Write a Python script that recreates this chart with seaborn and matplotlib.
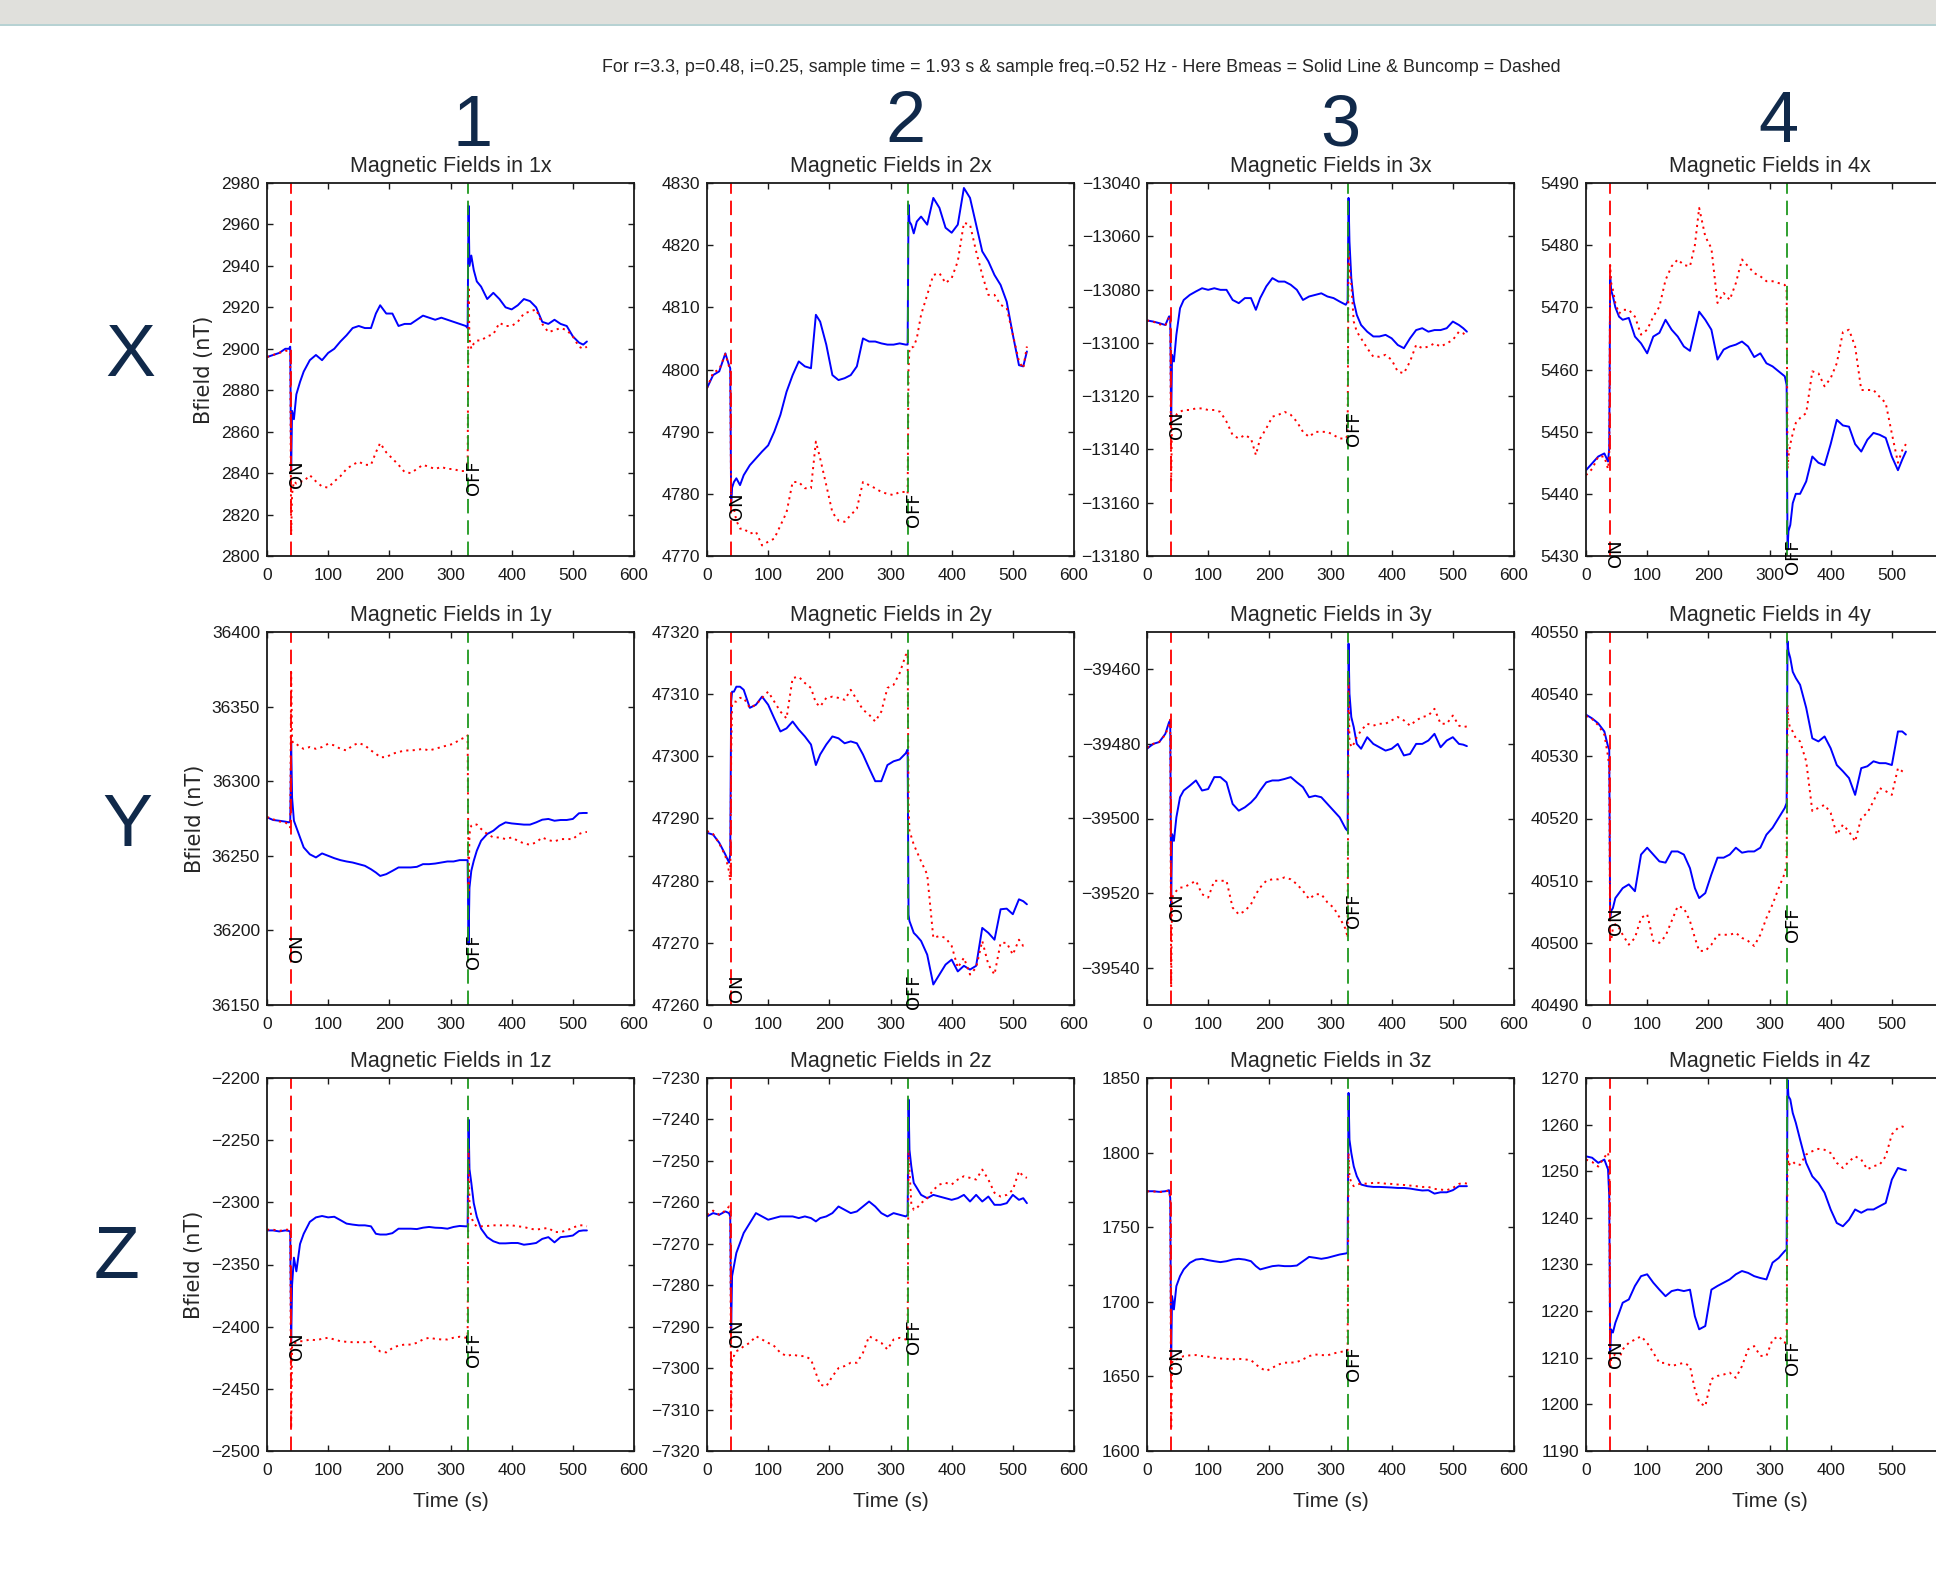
import matplotlib
matplotlib.use("Agg")
import matplotlib.pyplot as plt
from matplotlib.patches import Rectangle
from matplotlib.lines import Line2D
from matplotlib.ticker import MultipleLocator, FixedLocator
from matplotlib import font_manager
import seaborn as sns

# Sample times (s)
T = [0, 10, 20, 30, 36, 38, 39.5, 41, 44, 48, 54, 60, 70, 80, 90, 100, 110, 120, 130, 140,
     150, 160, 170, 178, 185, 195, 205, 215, 225, 235, 245, 255, 265, 275, 285, 295, 305, 315,
     325, 328, 329.5, 331, 334, 338, 343, 350, 360, 370, 380, 390, 400, 410, 420, 430, 440, 450,
     460, 470, 480, 490, 500, 510, 517, 523]

T_ON = 38.6
T_OFF = 328.5

# Bmeas (B_*) and Buncomp (U_*) per sensor/axis, in nT
B_1x = [2896, 2897, 2898, 2900, 2900, 2901, 2841, 2870, 2866, 2878, 2884, 2889, 2894.5, 2897, 2894.5, 2898, 2900, 2903.5, 2906.5, 2910,
        2911, 2910, 2910, 2917, 2921, 2917, 2917, 2911, 2912, 2912, 2914, 2916, 2915, 2914, 2915, 2914, 2913, 2912,
        2911, 2910, 2969, 2940, 2945, 2938, 2932.5, 2930, 2924, 2927, 2924, 2920, 2919, 2921, 2924, 2923, 2920, 2913,
        2912, 2914, 2912, 2911, 2906, 2903, 2902, 2903.5]
U_1x = [2896, 2897, 2898, 2899, 2899, 2898, 2810, 2830, 2836, 2835, 2836, 2836, 2839, 2836, 2833.5, 2833, 2836, 2838.5, 2842, 2844,
        2845.5, 2844, 2844, 2850, 2854.5, 2850, 2847, 2844, 2840.5, 2840, 2842, 2844, 2843, 2842, 2843, 2842, 2842, 2841,
        2841, 2841, 2930, 2905, 2900, 2902.5, 2904, 2904, 2906, 2907, 2912.5, 2911, 2911, 2913, 2917, 2918, 2919, 2912,
        2908, 2909, 2910, 2909, 2906, 2901, 2900, 2901]

B_2x = [4797, 4799.1, 4799.7, 4802.6, 4800.7, 4800.2, 4778.5, 4781, 4781.9, 4782.5, 4781.4, 4783, 4784.6, 4785.7, 4786.8, 4787.8, 4790, 4792.7, 4796.4, 4799.1,
        4801.3, 4800.5, 4800.2, 4808.8, 4807.7, 4804, 4799.1, 4798.3, 4798.6, 4799.1, 4800.5, 4805, 4804.5, 4804.5, 4804.2, 4804, 4804, 4804.2,
        4804, 4804, 4826.5, 4823.8, 4823.3, 4821.9, 4823.8, 4824.6, 4823.3, 4827.6, 4826, 4822.8, 4822, 4823.3, 4829.2, 4827.6, 4823.3, 4819,
        4817.4, 4815.2, 4813.6, 4810.9, 4805.6, 4800.7, 4800.5, 4802.9]
U_2x = [4797, 4799.5, 4800, 4802.5, 4800.5, 4800, 4778, 4777.6, 4777.6, 4775.7, 4774.4, 4774.4, 4773.6, 4773.9, 4771.7, 4772.3, 4772.8, 4774.9, 4777, 4781.9,
        4781.9, 4780.9, 4780.9, 4788.4, 4785.7, 4781.4, 4777, 4775.7, 4775.5, 4776.6, 4777.6, 4781.9, 4781.4, 4780.9, 4780.3, 4780, 4779.8, 4780.3,
        4780.3, 4780, 4800, 4803.4, 4803.5, 4803.7, 4805, 4808.8, 4812, 4815.2, 4815.5, 4813.9, 4814.7, 4817.4, 4823.6, 4823.3, 4819, 4815.2,
        4812, 4812, 4810.4, 4809.9, 4805.6, 4801.3, 4800.2, 4803.7]

B_3x = [-13091.6, -13092, -13092.6, -13093.3, -13090.1, -13090.1, -13129.6, -13104.5, -13107, -13097, -13087, -13083.9, -13082, -13080.7, -13079.5, -13080.1, -13079.5, -13080.1, -13080.1, -13083.9,
        -13085.1, -13083.2, -13083.2, -13087.6, -13083.2, -13078.8, -13075.7, -13077, -13077, -13078.2, -13080.1, -13083.9, -13082.6, -13082, -13081.4, -13082.6, -13083.2, -13084.5,
        -13085.7, -13084.5, -13045.6, -13061.9, -13075.7, -13084.5, -13089.5, -13093.3, -13095.8, -13097.6, -13097.6, -13097, -13098.3, -13100.8, -13102, -13098.3, -13095.2, -13094.5,
        -13095.8, -13095.2, -13095.2, -13094.5, -13092, -13093.3, -13094.5, -13095.8]
U_3x = [-13091.6, -13092, -13093, -13093.5, -13090.5, -13091, -13152, -13127, -13126.5, -13127, -13125.9, -13125.2, -13125.2, -13124.6, -13124.6, -13125.2, -13125.2, -13125.9, -13129.6, -13134.6,
        -13135.9, -13134.6, -13135.9, -13142.1, -13135.9, -13132.1, -13127.7, -13127, -13125.9, -13127, -13129.6, -13133.4, -13135.3, -13133.4, -13133.4, -13133.4, -13134.6, -13135.9,
        -13135.9, -13134.6, -13065.7, -13072, -13078, -13092, -13095.8, -13098.3, -13102, -13105.2, -13105.2, -13104.5, -13106.4, -13110.8, -13111.4, -13107, -13100.8, -13102,
        -13101.4, -13100.2, -13101.4, -13100.2, -13098.9, -13095.8, -13096.4, -13097.6]

B_4x = [5443.8, 5444.9, 5446, 5446.5, 5445.2, 5447.3, 5475, 5472.8, 5471.8, 5470, 5468.5, 5468, 5468.3, 5465.3, 5464.2, 5462.6, 5465.3, 5465.9, 5468, 5466.4,
        5465.3, 5463.7, 5463, 5466.4, 5469.3, 5468, 5466.4, 5461.6, 5463.2, 5463.7, 5464, 5464.5, 5463.7, 5462, 5462.6, 5461, 5460.5, 5459.7,
        5458.9, 5457.5, 5431, 5434, 5435, 5438.5, 5440, 5440, 5442, 5446, 5445, 5444.6, 5448, 5451.9, 5451, 5450.8, 5448, 5446.8,
        5448.7, 5449.8, 5449.5, 5449, 5446, 5443.8, 5445.5, 5446.8]
U_4x = [5443, 5444, 5446, 5446, 5444, 5446, 5476.8, 5474, 5472.8, 5470.7, 5469, 5469.6, 5469.6, 5468.5, 5465.6, 5466.4, 5468.5, 5470.1, 5474.4, 5476.6,
        5477.7, 5476.8, 5476.6, 5480, 5486, 5481.4, 5479.5, 5470.7, 5472.3, 5471.2, 5473.9, 5477.7, 5476.6, 5475.5, 5475, 5474.2, 5474.2, 5473.9,
        5473.6, 5473, 5444, 5446, 5448, 5449.7, 5451.4, 5452.2, 5453, 5459.7, 5459.4, 5457.3, 5458.6, 5461, 5466, 5466.4, 5463.7, 5456.7,
        5456.7, 5456.7, 5455.6, 5454.6, 5449.7, 5445, 5447, 5448]

B_1y = [36275.8, 36274, 36273.5, 36272.9, 36272.4, 36273.5, 36326, 36289, 36273.5, 36269, 36262.3, 36255.6, 36251, 36248.9, 36251.6, 36250, 36248.4, 36247.1, 36246.2, 36245.5,
        36244.4, 36243.3, 36241, 36238.8, 36236.5, 36237.7, 36239.9, 36242.2, 36242.2, 36242.2, 36242.6, 36244.4, 36244.4, 36244.8, 36245.5, 36246.2, 36246.2, 36247.1,
        36247.1, 36247.1, 36190.6, 36228.7, 36239.9, 36246.6, 36253.4, 36260.1, 36264.6, 36266.8, 36270.2, 36272.4, 36271.7, 36271.3, 36270.9, 36270.9, 36272.4, 36274.2,
        36274.7, 36273.5, 36274, 36274, 36274.7, 36278.5, 36278.7, 36278.7]
U_1y = [36276, 36274.5, 36273, 36272.5, 36270, 36269, 36373, 36327, 36325, 36325, 36322.9, 36321.7, 36322.9, 36321.7, 36322.9, 36325.1, 36324, 36321.7, 36320.6, 36324,
        36325.6, 36324, 36320.6, 36318.4, 36316.1, 36316.1, 36318.4, 36319.5, 36320.6, 36320.6, 36321, 36321.7, 36320.6, 36321.7, 36322.9, 36324, 36325.1, 36327.8,
        36329.6, 36330.7, 36225, 36264.6, 36270.2, 36271.3, 36270.9, 36268, 36264.6, 36262.3, 36262.3, 36261.2, 36262.3, 36260.1, 36258.3, 36257.4, 36259, 36262.3,
        36260.5, 36259.6, 36261.2, 36261.2, 36261.2, 36264.6, 36265.7, 36266]

B_2y = [47287.7, 47287.4, 47286.1, 47284.2, 47282.9, 47284.2, 47308.8, 47310.4, 47310.4, 47311.2, 47311.2, 47310.7, 47307.8, 47308.3, 47309.6, 47308.3, 47306.1, 47304, 47304.5, 47305.6,
        47304.3, 47303.2, 47301.9, 47298.6, 47300.3, 47301.9, 47303.2, 47302.9, 47302.1, 47302.4, 47302.1, 47300.3, 47298.1, 47296, 47296, 47298.6, 47299.2, 47299.5,
        47300.5, 47301.1, 47274.5, 47273.5, 47272.7, 47271.6, 47271.1, 47270.3, 47268.1, 47263.3, 47264.9, 47266.5, 47267.3, 47265.4, 47266.3, 47265.7, 47266.3, 47272.4,
        47271.6, 47270.5, 47275.4, 47275.5, 47274.6, 47277, 47276.7, 47276.2]
U_2y = [47288, 47287.5, 47286, 47284, 47281.5, 47280, 47300, 47308.3, 47308.8, 47308.8, 47309.4, 47309.4, 47307.8, 47308.3, 47309.4, 47310.4, 47308.8, 47307.2, 47306.1, 47312.6,
        47312.8, 47311.8, 47311, 47308.6, 47308, 47309.4, 47309.6, 47309.4, 47309.1, 47310.7, 47309.1, 47307.5, 47306.7, 47305.6, 47307.2, 47311, 47311.5, 47313.4,
        47316.3, 47316.6, 47292, 47287.9, 47287.1, 47285.8, 47284.7, 47283.1, 47281, 47270.8, 47271.1, 47270.8, 47269.5, 47266, 47267.6, 47264.9, 47266, 47270.3,
        47266.5, 47264.9, 47270, 47270, 47268.1, 47270.5, 47269.5, 47269.5]

B_3y = [-39481.3, -39480, -39479.5, -39477.3, -39474.2, -39473.7, -39523, -39504.2, -39506, -39499.7, -39494.3, -39492.5, -39491.2, -39489.8, -39492.5, -39492.1, -39488.9, -39488.9, -39490.3, -39496.1,
        -39497.9, -39497, -39495.7, -39494.3, -39492.5, -39490.3, -39489.8, -39489.8, -39489.4, -39488.9, -39490.3, -39491.6, -39494.3, -39493.9, -39494.3, -39496.1, -39497.9, -39499.7,
        -39502.8, -39503.3, -39453.1, -39466.5, -39472.8, -39475.5, -39480, -39481.3, -39478.2, -39480, -39480.9, -39481.8, -39481.3, -39480, -39483.1, -39482.7, -39480, -39480,
        -39479.1, -39477.3, -39480.9, -39479.1, -39478.2, -39480, -39480.2, -39480.6]
U_3y = [-39481, -39480, -39479.5, -39477.5, -39475, -39473.5, -39545.4, -39521.2, -39520.3, -39519.4, -39518.5, -39518.5, -39517.6, -39516.7, -39520.3, -39521.2, -39516.7, -39516.7, -39516.7, -39523.9,
        -39525.7, -39524.8, -39523, -39520.3, -39518.5, -39516.7, -39516.3, -39516.3, -39515.8, -39516.3, -39517.6, -39519.4, -39521.6, -39520.3, -39520.3, -39522.5, -39523.9, -39526.6,
        -39529.7, -39532, -39462, -39479.1, -39480.9, -39480, -39478.2, -39476.4, -39474.6, -39475.1, -39474.6, -39474.6, -39473.7, -39472.8, -39473.7, -39475.1, -39473.7, -39472.8,
        -39472.4, -39470.6, -39474.6, -39474.6, -39472.4, -39475.1, -39475.5, -39475.3]

B_4y = [40536.7, 40536.1, 40535.3, 40534, 40531.6, 40531.1, 40504, 40505.1, 40505.6, 40507.2, 40508, 40508.8, 40509.4, 40508.3, 40514.2, 40515.3, 40514.2, 40513.1, 40512.9, 40514.7,
        40514.7, 40514.2, 40512, 40508.8, 40507.2, 40508, 40511, 40513.7, 40513.7, 40514.2, 40515.3, 40514.5, 40514.7, 40514.7, 40515.3, 40517.4, 40518.5, 40520.1,
        40521.7, 40522.5, 40548.5, 40546.9, 40545.8, 40543.6, 40542.6, 40541.5, 40537.8, 40532.9, 40532.4, 40533.2, 40531.3, 40528.6, 40527.6, 40526.5, 40523.8, 40528.1,
        40528.4, 40529.2, 40528.9, 40528.9, 40528.6, 40534, 40534, 40533.5]
U_4y = [40536.5, 40536, 40535, 40533.5, 40530, 40528, 40500.3, 40500.3, 40502.4, 40503, 40502.4, 40501.3, 40499.7, 40500.8, 40504, 40504.6, 40500.3, 40500, 40501.1, 40503.5,
        40505.9, 40505.6, 40503.5, 40500.8, 40498.7, 40498.7, 40499.7, 40501.3, 40501.3, 40501.3, 40501.6, 40500.8, 40500.3, 40499.5, 40501.3, 40504, 40506.2, 40508.8,
        40511.2, 40512.6, 40538.3, 40535.6, 40534.5, 40534, 40532.9, 40532.4, 40529.2, 40521.2, 40521.7, 40522.2, 40520.9, 40517.4, 40519, 40517.9, 40516.3, 40520.1,
        40520.9, 40522.8, 40524.9, 40524.4, 40523.8, 40528.1, 40527.6, 40527.3]

B_1z = [-2322.6, -2322.6, -2323.4, -2322.6, -2323, -2324, -2413, -2366.4, -2344.5, -2355.5, -2333.5, -2325.3, -2315.7, -2312.1, -2311, -2312.1, -2311.6, -2314.3, -2317.1, -2317.9,
        -2318.5, -2318.5, -2319.3, -2325.3, -2325.9, -2325.9, -2324.8, -2321.2, -2321.2, -2321.2, -2321.5, -2320.4, -2319.8, -2320.4, -2320.6, -2321.2, -2319.8, -2319,
        -2319.3, -2319.3, -2233.5, -2273.2, -2284.2, -2300.6, -2311.6, -2321.2, -2328, -2331.3, -2333, -2333, -2332.7, -2332.7, -2334.1, -2333.5, -2332.7, -2329.4,
        -2328, -2332.2, -2328, -2327.5, -2326.7, -2323.1, -2322.6, -2322.6]
U_1z = [-2322, -2322, -2323, -2322, -2322, -2324, -2482, -2415.8, -2413, -2413, -2411.7, -2411.7, -2410.3, -2410.9, -2409.8, -2408.9, -2410.3, -2411.7, -2412.2, -2412.5,
        -2412.5, -2412.5, -2412.2, -2417.2, -2419.9, -2420.7, -2417.2, -2415.2, -2414.4, -2414.4, -2413, -2410.3, -2408.9, -2409.8, -2410.3, -2410.3, -2408.9, -2408.1,
        -2408.9, -2408.9, -2256.8, -2300.6, -2311.6, -2317.1, -2319.3, -2319.3, -2319, -2318.5, -2318.5, -2318.5, -2318.5, -2319.3, -2319.8, -2321.2, -2322, -2321.2,
        -2320.6, -2323.9, -2323.9, -2322.6, -2320.4, -2318.5, -2318.5, -2319.3]

B_2z = [-7263.4, -7262.6, -7263, -7262.2, -7262.6, -7263.4, -7290.7, -7277.8, -7275.4, -7272.2, -7269.8, -7267.4, -7265, -7262.6, -7263.4, -7264.2, -7263.8, -7263.4, -7263.4, -7263.4,
        -7263.8, -7263.4, -7263.8, -7264.6, -7263.8, -7263.4, -7262.6, -7261, -7261.8, -7262.6, -7262.2, -7261, -7259.8, -7261, -7262.6, -7263.4, -7262.6, -7263,
        -7263.4, -7263, -7235.2, -7247.3, -7251.3, -7255.3, -7256.5, -7258.2, -7259, -7258.2, -7258.6, -7259, -7259.4, -7259, -7258.2, -7259.8, -7258.2, -7259.8,
        -7258.6, -7260.6, -7260.6, -7260.2, -7258.2, -7259.4, -7259, -7260.2]
U_2z = [-7263, -7262, -7263, -7262, -7261, -7262, -7310.4, -7297.1, -7297.1, -7295.9, -7295.5, -7294.7, -7293.9, -7292.3, -7293.1, -7293.9, -7294.7, -7296.3, -7297.1, -7296.7,
        -7297.1, -7297.1, -7297.9, -7301.2, -7304, -7304.4, -7302, -7300, -7299.5, -7298.7, -7298.7, -7296.3, -7292.3, -7293.1, -7293.9, -7295.5, -7293.1, -7292.7,
        -7293.1, -7292.3, -7247.3, -7252.1, -7260.2, -7261.8, -7261.4, -7260.2, -7259, -7257, -7255.7, -7255.3, -7255.7, -7254.5, -7253.7, -7254.1, -7254.5, -7252.1,
        -7254.5, -7257.7, -7258.6, -7258.2, -7257, -7252.5, -7253.7, -7254.1]

B_3z = [1774.1, 1774.1, 1773.7, 1774.1, 1774.8, 1769.6, 1663, 1703.8, 1694.9, 1710.5, 1717.2, 1721.7, 1726.1, 1728.3, 1728.8, 1727.9, 1727.2, 1726.6, 1727.2, 1728.3,
        1728.8, 1728.3, 1727.2, 1723.9, 1721.7, 1722.8, 1723.9, 1724.3, 1723.9, 1723.9, 1724.3, 1727.2, 1730.1, 1729.5, 1728.8, 1729.5, 1730.6, 1731.7,
        1732.4, 1732.8, 1840, 1808.7, 1799.8, 1790.8, 1784.2, 1778.6, 1777.5, 1777, 1777, 1776.8, 1776.6, 1776.3, 1776.3, 1775.9, 1775.2, 1774.6,
        1774.8, 1772.5, 1773.4, 1773.4, 1774.8, 1777.5, 1777.5, 1777.5]
U_3z = [1774, 1774, 1773.5, 1774, 1774.5, 1770, 1614.5, 1659.2, 1661.4, 1661.4, 1662.5, 1663.6, 1664.1, 1664.3, 1663.6, 1663.2, 1662.5, 1662, 1661.8, 1661.4,
        1661.8, 1661.4, 1660.9, 1658, 1655.8, 1653.6, 1655.8, 1658, 1659.2, 1659.2, 1659.6, 1661.4, 1663.6, 1664.7, 1664.3, 1664.1, 1665.4, 1666.3,
        1667, 1667.6, 1799.8, 1784.2, 1779.7, 1777.5, 1778.6, 1779.2, 1779.2, 1779.7, 1779.7, 1779.2, 1779, 1778.6, 1778.3, 1777.9, 1777.5, 1777,
        1777, 1775.7, 1775.2, 1774.8, 1776.3, 1779, 1779.7, 1779.2]

B_4z = [1253.2, 1252.9, 1251.8, 1252.5, 1250.4, 1244.6, 1211.5, 1216.1, 1215.4, 1217.5, 1219.6, 1221.8, 1222.5, 1225.4, 1227.5, 1227.9, 1226.1, 1224.6, 1223.2, 1224.3,
        1224.6, 1224.3, 1224.6, 1218.9, 1216.1, 1216.8, 1224.6, 1225.4, 1226.1, 1226.8, 1227.9, 1228.6, 1228.2, 1227.5, 1227.1, 1226.8, 1230.4, 1231.4,
        1232.9, 1233.2, 1269.6, 1266.1, 1265.4, 1262.5, 1260.4, 1256.8, 1251.8, 1248.9, 1247.5, 1245.4, 1241.8, 1238.9, 1238.2, 1239.6, 1241.8, 1241.1,
        1241.8, 1241.8, 1242.5, 1243.2, 1248.2, 1250.7, 1250.4, 1250.2]
U_4z = [1252.5, 1252, 1251, 1253, 1254, 1252, 1207.5, 1209.6, 1210.4, 1210.7, 1209.6, 1211.8, 1213.2, 1213.9, 1214.6, 1213.2, 1211.1, 1208.9, 1208.9, 1208.2,
        1208.6, 1208.9, 1208.2, 1203.2, 1200.4, 1199.6, 1205.4, 1206.1, 1206.4, 1206.8, 1205.7, 1208.2, 1211.8, 1212.5, 1210.4, 1210.4, 1213.9, 1214.6,
        1213.2, 1213.9, 1254.6, 1251.1, 1251.8, 1252.1, 1251.4, 1251.4, 1253.6, 1254.3, 1254.8, 1254.6, 1253.9, 1251.8, 1250.7, 1252.1, 1253.2, 1252.5,
        1250.4, 1251.1, 1251.4, 1253.2, 1257.9, 1259.3, 1259.6, 1259.3]

SENSORS = ["1", "2", "3", "4"]
AXES_NAMES = ["x", "y", "z"]
ROW_LETTERS = ["X", "Y", "Z"]

# y limits and tick step for each panel, keyed by sensor+axis
Y_LIMITS = {
    "1x": (2800, 2980, 20), "2x": (4770, 4830, 10), "3x": (-13180, -13040, 20), "4x": (5430, 5490, 10),
    "1y": (36150, 36400, 50), "2y": (47260, 47320, 10), "3y": (-39550, -39450, 20), "4y": (40490, 40550, 10),
    "1z": (-2500, -2200, 50), "2z": (-7320, -7230, 10), "3z": (1600, 1850, 50), "4z": (1190, 1270, 10),
}
SERIES = {
    "1x": (B_1x, U_1x), "2x": (B_2x, U_2x), "3x": (B_3x, U_3x), "4x": (B_4x, U_4x),
    "1y": (B_1y, U_1y), "2y": (B_2y, U_2y), "3y": (B_3y, U_3y), "4y": (B_4y, U_4y),
    "1z": (B_1z, U_1z), "2z": (B_2z, U_2z), "3z": (B_3z, U_3z), "4z": (B_4z, U_4z),
}

sns.set_style("ticks")
installed = {f.name for f in font_manager.fontManager.ttflist}
SANS = "Liberation Sans" if "Liberation Sans" in installed else "DejaVu Sans"
plt.rcParams["font.family"] = [SANS, "DejaVu Sans"]
plt.rcParams.update({
    "xtick.direction": "in", "ytick.direction": "in",
    "xtick.top": True, "ytick.right": True,
    "xtick.major.size": 4, "ytick.major.size": 4,
    "xtick.major.width": 1.0, "ytick.major.width": 1.0,
    "xtick.major.pad": 8.5, "ytick.major.pad": 5,
    "xtick.color": "#1a1a1a", "ytick.color": "#1a1a1a",
    "axes.linewidth": 1.3, "axes.edgecolor": "#1a1a1a",
    "xtick.labelsize": 12.5, "ytick.labelsize": 12.5,
    "axes.unicode_minus": True,
})

W, H = 1936, 1575
fig = plt.figure(figsize=(W / 100, H / 100), dpi=100)
fig.patch.set_facecolor("white")

# slide header band
fig.patches.append(Rectangle((0, 1 - 24 / H), 1, 24 / H, transform=fig.transFigure,
                             facecolor="#e0e0dc", edgecolor="none", zorder=0))
fig.lines.append(Line2D([0, 1], [1 - 24.5 / H, 1 - 24.5 / H], transform=fig.transFigure,
                        color="#a9c9cb", lw=1.2))

COL_LEFT = [267, 707, 1147, 1586]
ROW_TOP = [183, 632, 1078]
AX_W, AX_H = 367, 373
NAVY = "#10294a"

for r, axis_name in enumerate(AXES_NAMES):
    for c, sensor in enumerate(SENSORS):
        key = sensor + axis_name
        bmeas, bunc = SERIES[key]
        lo, hi, step = Y_LIMITS[key]
        left = COL_LEFT[c] / W
        bottom = 1 - (ROW_TOP[r] + AX_H) / H
        ax = fig.add_axes([left, bottom, AX_W / W, AX_H / H])

        sns.lineplot(x=T, y=bmeas, ax=ax, color="#0000ff", lw=1.4, estimator=None, sort=False)
        sns.lineplot(x=T, y=bunc, ax=ax, color="#ff0000", lw=1.4, linestyle=(0, (1.1, 2.2)),
                     estimator=None, sort=False)
        ax.axvline(T_ON, color="#ff0000", lw=1.3, linestyle=(0, (8, 3.8)))
        ax.axvline(T_OFF, color="#1f991f", lw=1.3, linestyle=(0, (8, 3.8)))

        y_text = min(bmeas)
        for t_mark, label in ((T_ON, "ON"), (T_OFF, "OFF")):
            ax.annotate(label, xy=(t_mark, y_text), xytext=(-2, 7.5), textcoords="offset points",
                        rotation=90, ha="left", va="top", fontsize=13, family="DejaVu Sans",
                        color="black", annotation_clip=False)

        ax.set_xlim(0, 600)
        ax.set_ylim(lo, hi)
        if c == 3:
            # the rightmost column runs past the page edge: last visible tick is 500
            ax.xaxis.set_major_locator(FixedLocator([0, 100, 200, 300, 400, 500]))
        else:
            ax.xaxis.set_major_locator(MultipleLocator(100))
        ax.yaxis.set_major_locator(MultipleLocator(step))
        ax.set_title(f"Magnetic Fields in {key}", fontsize=15.5, pad=8)
        ax.set_xlabel("Time (s)" if r == 2 else "", fontsize=15, labelpad=10)
        ax.set_ylabel("Bfield (nT)" if c == 0 else "", fontsize=15, family="DejaVu Sans", labelpad=5)

fig.text(1081 / W, 1 - 67 / H,
         "For r=3.3, p=0.48, i=0.25, sample time = 1.93 s & sample freq.=0.52 Hz - Here Bmeas = Solid Line & Buncomp = Dashed",
         ha="center", va="center", fontsize=12.9)

# column and row headings
for x_px, base_px, s in zip([473, 905, 1340, 1778], [145.5, 142.5, 145.5, 141.5], SENSORS):
    fig.text(x_px / W, 1 - base_px / H, s, ha="center", va="baseline", fontsize=52, color=NAVY)
for (x_px, y_px), s in zip([(130, 349), (127, 819), (117, 1251)], ROW_LETTERS):
    fig.text(x_px / W, 1 - y_px / H, s, ha="center", va="center_baseline", fontsize=54, color=NAVY)

fig.savefig("out.png", dpi=100)
